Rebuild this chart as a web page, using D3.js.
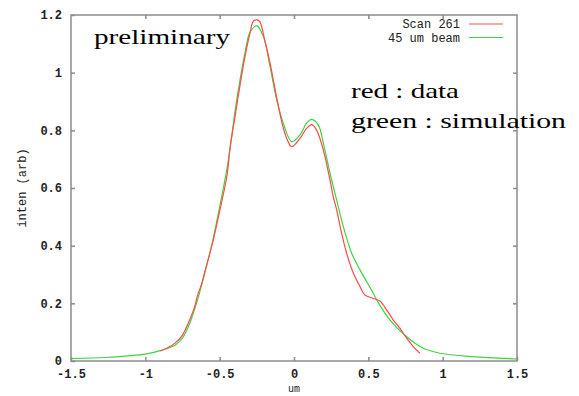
<!DOCTYPE html>
<html>
<head>
<meta charset="utf-8">
<script src="https://cdn.jsdelivr.net/npm/d3@7"></script>
<style>
  html, body { margin: 0; padding: 0; background: #fff; }
  svg { display: block; }
</style>
</head>
<body>
<svg id="chart" width="579" height="396"></svg>
<script>
// Measured intensity profile (Scan 261)
const dataX = [-0.9, -0.85, -0.8, -0.75, -0.7, -0.67, -0.65, -0.62, -0.6, -0.55, -0.5, -0.45, -0.43, -0.397, -0.363, -0.33, -0.296, -0.275, -0.25, -0.23, -0.2, -0.161, -0.116, -0.072, -0.04, -0.016, 0.04, 0.085, 0.12, 0.153, 0.197, 0.242, 0.264, 0.287, 0.32, 0.354, 0.399, 0.444, 0.477, 0.533, 0.578, 0.623, 0.668, 0.713, 0.758, 0.802, 0.847];
const dataY = [0.035, 0.046, 0.062, 0.09, 0.145, 0.185, 0.225, 0.27, 0.31, 0.405, 0.52, 0.645, 0.74, 0.847, 0.957, 1.055, 1.137, 1.177, 1.183, 1.177, 1.12, 1.033, 0.912, 0.808, 0.761, 0.743, 0.772, 0.807, 0.82, 0.80, 0.732, 0.628, 0.57, 0.524, 0.444, 0.374, 0.305, 0.258, 0.229, 0.217, 0.208, 0.177, 0.142, 0.113, 0.079, 0.05, 0.027];

// Simulated profile for a 45 um beam
const simX = [-1.5, -1.25, -1.0, -0.9, -0.8, -0.75, -0.7, -0.65, -0.6, -0.55, -0.5, -0.45, -0.42, -0.397, -0.363, -0.33, -0.296, -0.25, -0.206, -0.161, -0.116, -0.072, -0.016, 0.04, 0.085, 0.119, 0.164, 0.197, 0.242, 0.287, 0.332, 0.388, 0.444, 0.533, 0.556, 0.646, 0.758, 0.87, 0.982, 1.2, 1.5];
const simY = [0.008, 0.013, 0.024, 0.036, 0.055, 0.08, 0.133, 0.21, 0.305, 0.41, 0.535, 0.67, 0.775, 0.865, 0.975, 1.068, 1.14, 1.162, 1.125, 1.02, 0.905, 0.825, 0.761, 0.784, 0.825, 0.838, 0.818, 0.756, 0.652, 0.558, 0.466, 0.374, 0.316, 0.235, 0.212, 0.142, 0.084, 0.044, 0.027, 0.015, 0.007];

const xTicks = [-1.5, -1, -0.5, 0, 0.5, 1, 1.5];
const yTicks = [0, 0.2, 0.4, 0.6, 0.8, 1, 1.2];
const seriesNames = ["Scan 261", "45 um beam"];
const seriesColors = ["#ff4a4a", "#3fd43f"];

const svg = d3.select("#chart");
const x = d3.scaleLinear().domain([-1.5, 1.5]).range([71, 517]);
const y = d3.scaleLinear().domain([0, 1.2]).range([361, 15]);

const monoFont = "'Liberation Mono', 'DejaVu Sans Mono', monospace";
const fmt = d => (d === 0 ? "0" : String(d));

// Frame
svg.append("rect")
  .attr("x", x(-1.5)).attr("y", y(1.2))
  .attr("width", x(1.5) - x(-1.5)).attr("height", y(0) - y(1.2))
  .attr("fill", "none").attr("stroke", "#8c8c8c").attr("stroke-width", 1.5);

// Axes with inward ticks on all four sides
const tickStyle = g => {
  g.select(".domain").remove();
  g.selectAll(".tick line").attr("stroke", "#8c8c8c").attr("stroke-width", 1.5);
  g.selectAll(".tick text")
    .attr("font-family", monoFont).attr("font-size", 12)
    .attr("font-weight", "bold").attr("fill", "#222");
};

svg.append("g").attr("transform", `translate(0,${y(0)})`)
  .call(d3.axisBottom(x).tickValues(xTicks).tickFormat(fmt).tickSizeInner(-4).tickPadding(8))
  .call(tickStyle);
svg.append("g").attr("transform", `translate(0,${y(1.2)})`)
  .call(d3.axisTop(x).tickValues(xTicks.slice(1, -1)).tickFormat("").tickSizeInner(-4))
  .call(tickStyle);
svg.append("g").attr("transform", `translate(${x(-1.5)},0)`)
  .call(d3.axisLeft(y).tickValues(yTicks).tickFormat(fmt).tickSizeInner(-4).tickPadding(9))
  .call(tickStyle);
svg.append("g").attr("transform", `translate(${x(1.5)},0)`)
  .call(d3.axisRight(y).tickValues(yTicks.slice(1, -1)).tickFormat("").tickSizeInner(-4))
  .call(tickStyle);

// Axis titles
svg.append("text")
  .attr("transform", `translate(26,${(y(0) + y(1.2)) / 2}) rotate(-90)`)
  .attr("text-anchor", "middle")
  .attr("font-family", monoFont).attr("font-size", 12).attr("fill", "#222")
  .text("inten (arb)");
svg.append("text")
  .attr("x", x(0)).attr("y", 392)
  .attr("text-anchor", "middle")
  .attr("font-family", monoFont).attr("font-size", 10).attr("fill", "#222")
  .text("um");

// Curves
const line = d3.line().x(d => x(d[0])).y(d => y(d[1]));
const dataPts = dataX.map((v, i) => [v, dataY[i]]);
const simPts = simX.map((v, i) => [v, simY[i]]);

svg.append("path").datum(simPts)
  .attr("d", line.curve(d3.curveCatmullRom.alpha(0.5)))
  .attr("fill", "none").attr("stroke", seriesColors[1]).attr("stroke-width", 1.2);
svg.append("path").datum(dataPts)
  .attr("d", line.curve(d3.curveCatmullRom.alpha(0.5)))
  .attr("fill", "none").attr("stroke", seriesColors[0]).attr("stroke-width", 1.2);

// Legend
seriesNames.forEach((name, i) => {
  const ly = 24 + i * 13.5;
  svg.append("text")
    .attr("x", 460).attr("y", ly + 4)
    .attr("text-anchor", "end")
    .attr("font-family", monoFont).attr("font-size", 12).attr("fill", "#222")
    .text(name);
  svg.append("line")
    .attr("x1", 469).attr("x2", 503).attr("y1", ly).attr("y2", ly)
    .attr("stroke", seriesColors[i]).attr("stroke-width", 1.2);
});

// Annotations
const serif = "'Liberation Serif', 'Times New Roman', serif";
const notes = [
  { text: "preliminary", x: 94, y: 44, w: 136 },
  { text: "red : data", x: 351, y: 98, w: 108 },
  { text: "green : simulation", x: 351, y: 128, w: 215 }
];
notes.forEach(n => {
  svg.append("text")
    .attr("x", n.x).attr("y", n.y)
    .attr("font-family", serif).attr("font-size", 22).attr("fill", "#000")
    .attr("textLength", n.w).attr("lengthAdjust", "spacingAndGlyphs")
    .text(n.text);
});
</script>
</body>
</html>
